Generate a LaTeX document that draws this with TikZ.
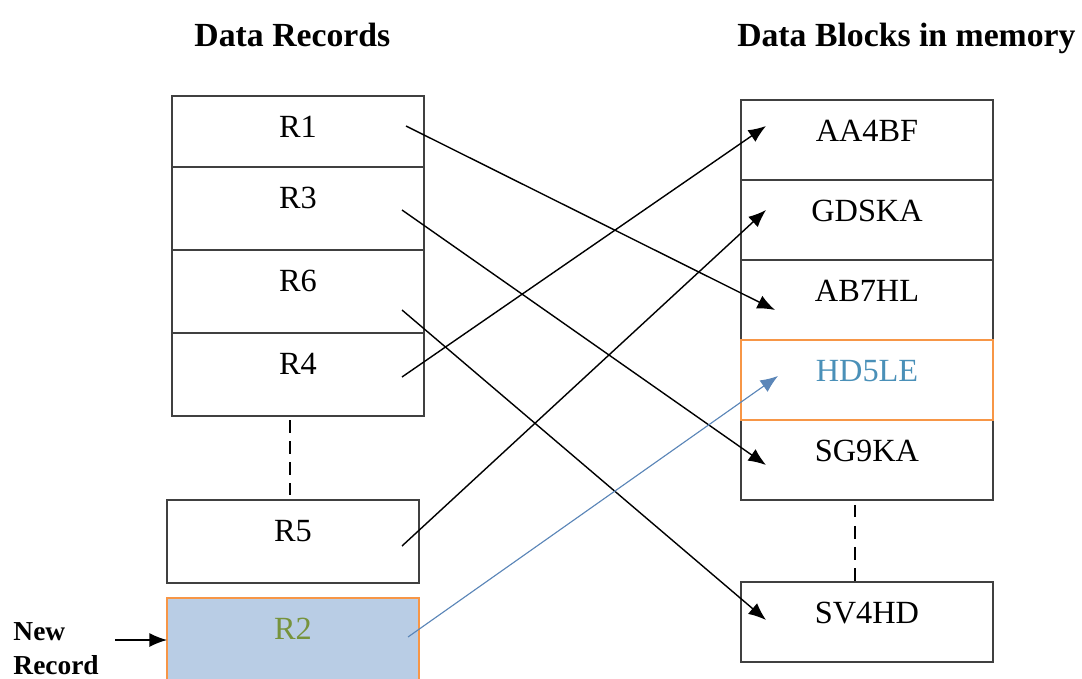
\documentclass[tikz,border=0pt]{standalone}
\usepackage{fontspec}
\setmainfont{Liberation Serif}
\usetikzlibrary{positioning}
\usetikzlibrary{arrows.meta}

\definecolor{newfill}{HTML}{B9CDE5}
\definecolor{newedge}{HTML}{F79646}
\definecolor{newtext}{HTML}{77933C}
\definecolor{hdtext}{HTML}{4A90B8}
\definecolor{hdarrow}{HTML}{5B86B8}

\tikzset{
  cell/.style={draw=black!75, line width=1.3pt, minimum width=6.3cm, outer sep=0pt, inner sep=0pt},
  lbl/.style={font=\fontsize{23}{28}\selectfont, inner sep=0pt},
  heading/.style={font=\fontsize{24}{29}\selectfont\bfseries, inner sep=0pt, anchor=base},
  link/.style={line width=1pt, -{Latex[length=12.5pt,width=10pt]}},
  gap/.style={line width=1pt, dash pattern=on 9pt off 6pt}
}

\begin{document}
\begin{tikzpicture}

\useasboundingbox (0,0) rectangle (27.05,-16.975);

% headings
\node[heading] (hrec) at (7.31,-1.175) {Data Records};
\node[heading] (hblk) at (22.66,-1.175) {Data Blocks in memory};

% data records
\node[cell, minimum height=1.775cm] (r1) at (7.45,-3.2875) {};
\node[cell, minimum height=2.075cm, below=0pt of r1] (r3) {};
\node[cell, minimum height=2.075cm, below=0pt of r3] (r6) {};
\node[cell, minimum height=2.075cm, below=0pt of r6] (r4) {};
\node[cell, minimum height=2.075cm] (r5) at (7.325,-13.5375) {};
\node[cell, minimum height=2.1cm, draw=newedge, fill=newfill] (r2) at (7.325,-16.0) {};

\node[lbl, below=0.5cm of r1.north] (tr1) {R1};
\node[lbl, below=0.5cm of r3.north] (tr3) {R3};
\node[lbl, below=0.5cm of r6.north] (tr6) {R6};
\node[lbl, below=0.5cm of r4.north] (tr4) {R4};
\node[lbl, below=0.5cm of r5.north] (tr5) {R5};
\node[lbl, below=0.5cm of r2.north, text=newtext] (tr2) {R2};

% data blocks
\node[cell, minimum height=2cm] (aa) at (21.675,-3.5) {};
\node[cell, minimum height=2cm, below=0pt of aa] (gd) {};
\node[cell, minimum height=2cm, below=0pt of gd] (ab) {};
\node[cell, minimum height=2cm, below=0pt of ab] (sg) {};
\node[cell, minimum height=2cm, below=0pt of sg] (sg9) {};
\node[cell, minimum height=2cm] (sv) at (21.675,-15.55) {};
\draw[newedge, line width=1.3pt] (sg.north west) rectangle (sg.south east);

\node[lbl, below=0.5cm of aa.north] (taa) {AA4BF};
\node[lbl, below=0.5cm of gd.north] (tgd) {GDSKA};
\node[lbl, below=0.5cm of ab.north] (tab) {AB7HL};
\node[lbl, below=0.5cm of sg.north, text=hdtext] (thd) {HD5LE};
\node[lbl, below=0.5cm of sg9.north] (tsg) {SG9KA};
\node[lbl, below=0.5cm of sv.north] (tsv) {SV4HD};

% new record
\node[font=\fontsize{19.5}{24}\selectfont\bfseries, align=left, anchor=west, inner sep=0pt] (newrec) at (0.33,-16.22) {New\\Record};
\coordinate (nr) at (2.88,-16.0);
\draw[link] (nr) -- (r2.west);

% gaps
\draw[gap] ([xshift=-0.2cm, yshift=-0.1cm]r4.south) -- ([xshift=-0.075cm, yshift=0.12cm]r5.north);
\draw[gap] ([xshift=-0.3cm, yshift=-0.12cm]sg9.south) -- ([xshift=-0.3cm]sv.north);

% pointers
\coordinate (o1) at (10.15,-3.15);
\coordinate (o3) at (10.05,-5.25);
\coordinate (o6) at (10.05,-7.75);
\coordinate (o4) at (10.05,-9.425);
\coordinate (o5) at (10.05,-13.65);
\coordinate (o2) at (10.2,-15.925);
\coordinate (iaa) at (19.15,-3.15);
\coordinate (igd) at (19.15,-5.25);
\coordinate (iab) at (19.375,-7.75);
\coordinate (ihd) at (19.45,-9.4);
\coordinate (isg) at (19.15,-11.625);
\coordinate (isv) at (19.15,-15.5);

\draw[link] (o1) -- (iab);
\draw[link] (o3) -- (isg);
\draw[link] (o6) -- (isv);
\draw[link] (o4) -- (iaa);
\draw[link] (o5) -- (igd);
\draw[link, draw=hdarrow, fill=hdarrow, line width=0.8pt] (o2) -- (ihd);

\end{tikzpicture}
\end{document}
